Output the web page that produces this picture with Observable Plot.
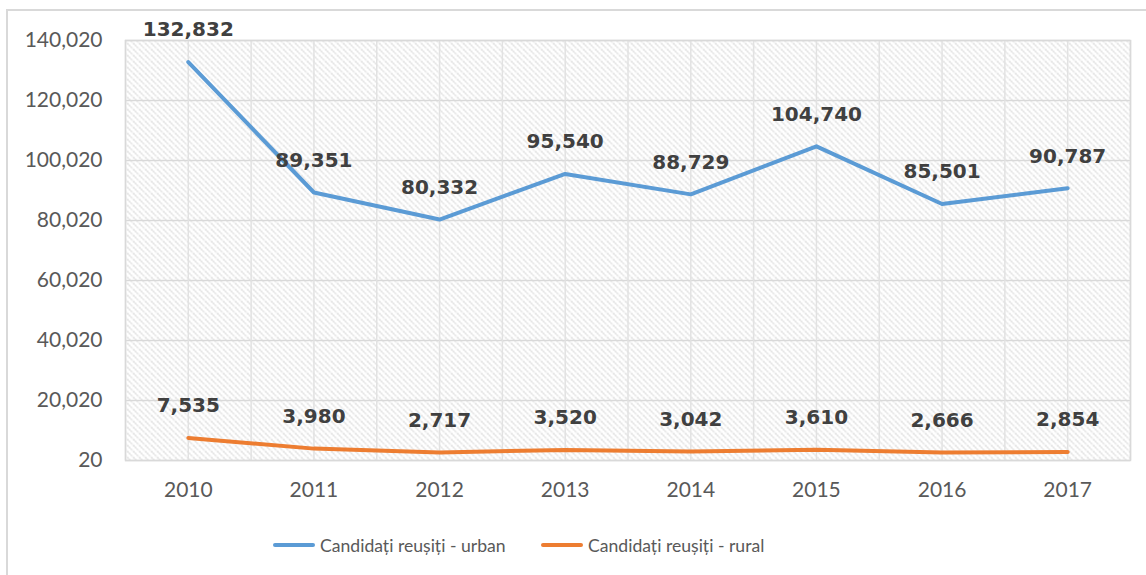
<!DOCTYPE html>
<html>
<head>
<meta charset="utf-8">
<script src="https://cdn.jsdelivr.net/npm/d3@7"></script>
<script src="https://cdn.jsdelivr.net/npm/@observablehq/plot@0.6"></script>
<style>
  body { margin: 0; background: #fff; }
  #wrap { position: relative; width: 1146px; height: 575px; overflow: hidden; font-family: Lato, sans-serif; }
  #border { position: absolute; left: 6px; top: 9px; width: 1160px; height: 620px; border: 2px solid #d9d9d9; box-sizing: border-box; }
  #chart { position: absolute; left: 0; top: 0; }
  #legend { position: absolute; top: 531px; left: 0; width: 1146px; height: 28px; }
  .item { position: absolute; top: 0; display: flex; align-items: center; height: 28px; font-size: 17.6px; color: #595959; }
  .sw { width: 42px; height: 4px; border-radius: 2px; margin-right: 5px; }
</style>
</head>
<body>
<div id="wrap">
  <div id="border"></div>
  <div id="chart"></div>
  <div id="legend"></div>
</div>
<script>
const years = [2010, 2011, 2012, 2013, 2014, 2015, 2016, 2017];
const urban = [132832, 89351, 80332, 95540, 88729, 104740, 85501, 90787];
const rural = [7535, 3980, 2717, 3520, 3042, 3610, 2666, 2854];
const yTicks = [20, 20020, 40020, 60020, 80020, 100020, 120020, 140020];
const seriesNames = ["Candidați reușiți - urban", "Candidați reușiți - rural"];
const colors = ["#5b9bd5", "#ed7d31"];

const table = [];
years.forEach((y, i) => table.push({year: y, value: urban[i], series: seriesNames[0]}));
years.forEach((y, i) => table.push({year: y, value: rural[i], series: seriesNames[1]}));

const gridX = d3.range(years[0] - 0.5, years[years.length - 1] + 0.51, 0.5);
const fmt = d3.format(",");

const svg = Plot.plot({
  width: 1146,
  height: 505,
  marginLeft: 125,
  marginRight: 16,
  marginTop: 40,
  marginBottom: 45,
  style: {fontFamily: "Lato, sans-serif", fontSize: "21px", color: "#595959", background: "transparent"},
  x: {type: "linear", domain: [years[0] - 0.5, years[years.length - 1] + 0.5]},
  y: {domain: [yTicks[0], yTicks[yTicks.length - 1]]},
  color: {domain: seriesNames, range: colors},
  marks: [
    Plot.frame({fill: "url(#hatch)", stroke: null}),
    Plot.gridY(yTicks, {stroke: "#d9d9d9", strokeOpacity: 1, strokeWidth: 1.5}),
    Plot.gridX(gridX, {stroke: "#e2e2e2", strokeOpacity: 1, strokeWidth: 1.5}),
    Plot.frame({stroke: "#d9d9d9", strokeWidth: 1.5}),
    Plot.axisY(yTicks, {tickSize: 0, tickPadding: 23, tickFormat: fmt, fontSize: 21, label: null}),
    Plot.axisX(years, {tickSize: 0, tickPadding: 22, tickFormat: d => String(d), fontSize: 21, label: null}),
    Plot.line(table, {x: "year", y: "value", z: "series", stroke: "series", strokeWidth: 4, strokeLinejoin: "round"}),
    Plot.text(table, {x: "year", y: "value", text: d => fmt(d.value), dy: -32, fontWeight: "bold", fontSize: 20, fill: "#404040", fontFamily: "DejaVu Sans", lineAnchor: "middle"})
  ]
});

const defs = d3.select(svg).insert("defs", ":first-child");
const pat = defs.append("pattern").attr("id", "hatch").attr("patternUnits", "userSpaceOnUse")
  .attr("width", 6).attr("height", 6);
pat.append("rect").attr("width", 6).attr("height", 6).attr("fill", "#ffffff");
pat.append("path").attr("d", "M-1,-1 L7,7 M-1,5 L1,7 M5,-1 L7,1")
  .attr("stroke", "#cccccc").attr("stroke-width", 1.2).attr("stroke-dasharray", "1.6,0.9");

document.getElementById("chart").appendChild(svg);

const legend = document.getElementById("legend");
const lefts = [273, 541];
seriesNames.forEach((name, i) => {
  const it = document.createElement("div");
  it.className = "item";
  it.style.left = lefts[i] + "px";
  const sw = document.createElement("div");
  sw.className = "sw";
  sw.style.background = colors[i];
  const tx = document.createElement("span");
  tx.textContent = name;
  it.appendChild(sw); it.appendChild(tx);
  legend.appendChild(it);
});
</script>
</body>
</html>
